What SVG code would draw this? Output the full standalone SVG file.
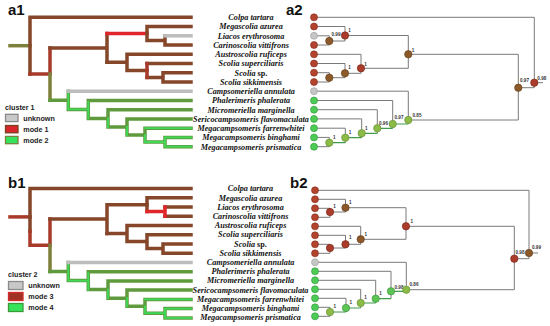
<svg xmlns="http://www.w3.org/2000/svg" width="550" height="326" viewBox="0 0 550 326">
<style>
.pl{font-family:"Liberation Sans",Arial,sans-serif;font-weight:bold;font-size:15px;fill:#111}
.lg{font-family:"Liberation Sans",Arial,sans-serif;font-weight:bold;font-size:7.2px;fill:#222}
.sp{font-family:"Liberation Serif","Times New Roman",serif;font-weight:bold;font-style:italic;font-size:8.2px;fill:#111;text-anchor:middle}
.sp tspan.n{font-style:normal}
.t1 path{fill:none;stroke-width:3.5;stroke-linecap:square;stroke-linejoin:miter}
.br{stroke:#854629}
.rd{stroke:#e0262a}
.rb{stroke:#a83a2a}
.gy{stroke:#bdbdbd}
.ol{stroke:#7d7f3a}
.go{stroke:#5f9a3c}
.t1 path.gi{stroke:#3fd957;stroke-width:1.8}
.t2 path{fill:none;stroke:#7a7a7a;stroke-width:1}
.t2 path.gl{stroke:#3f9c4c;stroke-width:1.2}
.nl{font-family:"Liberation Sans",Arial,sans-serif;font-weight:bold;font-size:4.6px;fill:#333}
.tb{fill:#b4432e;stroke:#7a2a1a;stroke-width:0.6}
.tg{fill:#c6c6c6;stroke:#9a9a9a;stroke-width:0.6}
.tn{fill:#4ccc55;stroke:#2f8f38;stroke-width:0.6}
.ib{fill:#8c5a2a;stroke:#5e3a18;stroke-width:0.6}
.ir{fill:#ab3b2a;stroke:#6e2618;stroke-width:0.6}
.iy{fill:#8dbb48;stroke:#5f8a30;stroke-width:0.6}
.ig{fill:#5cc655;stroke:#3a8a3a;stroke-width:0.6}
</style>
<defs>
<g id="tree1green" class="t1">
<path class="go" d="M50,100.3H68.3M68.3,91.2V109.4M68.3,109.4H88.3M88.3,100.5V118.4M88.3,100.5H191M88.3,118.4H108M108,109.7V127M108,109.7H191M108,127H127M127,118.9V135.1M127,118.9H191M127,135.1H145M145,128.2V142M145,128.2H191M145,142H165M165,137.4V146.7M165,137.4H191M165,146.7H191"/>
<path class="gi" d="M68.3,93V109.4M68.3,109.4H88.3M88.3,102V118.4M108,118.4V127M127,127V135.1M145,135.1V142M145,142H165M165,137.4V146.7M165,137.4H191M165,146.7H191M145,128.2H191"/>
<path class="gy" d="M68.3,91.2H191"/>
</g>
</defs>

<!-- panel labels -->
<text class="pl" x="8" y="15">a1</text>
<text class="pl" x="286" y="15">a2</text>
<text class="pl" x="8" y="188">b1</text>
<text class="pl" x="290" y="188">b2</text>

<!-- ===== a1 tree ===== -->
<g id="a1-connectors" class="t1">
<path class="ol" d="M10,45.7H30"/>
<path class="br" d="M30,17.3V74.1M30,17.3H191"/>
<path class="rb" d="M30,74.1H50M50,47.9V74.1"/>
<path class="ol" d="M50,74.1V100.3"/>
<path class="br" d="M50,47.9H107M107,33.5V62.3"/>
<path class="rd" d="M107,33.5H147"/>
<path class="br" d="M147,26.5V40.4M147,26.5H191M147,40.4H165M165,35.8V45M165,45H191"/>
<path class="gy" d="M165,35.8H191"/>
<path class="br" d="M107,62.3H127M127,54.3V70.4M127,54.3H191M127,70.4H147M147,63.5H191M147,77.4H163M163,72.7V82M163,72.7H191M163,82H191"/>
<path class="rb" d="M147,63.5V77.4"/>
<use href="#tree1green"/>
</g>

<g id="a1-legend">
<text class="lg" x="5" y="110">cluster 1</text>
<rect x="5.5" y="114.3" width="12.5" height="7.3" fill="#c8c8c8" stroke="#8a8a8a" stroke-width="1.3"/>
<text class="lg" x="23.3" y="120.6">unknown</text>
<rect x="5.5" y="125.5" width="12.5" height="7.3" fill="#d8262a" stroke="#7a4020" stroke-width="1.3"/>
<text class="lg" x="23.3" y="131.6">mode 1</text>
<rect x="5.5" y="136.4" width="12.5" height="7.3" fill="#35e45a" stroke="#7a8040" stroke-width="1.3"/>
<text class="lg" x="23.3" y="142.5">mode 2</text>
</g>

<g id="a-species">
<text class="sp" x="251" y="20.1">Colpa tartara</text>
<text class="sp" x="251" y="29.3">Megascolia  azurea</text>
<text class="sp" x="251" y="38.6">Liacos erythrosoma</text>
<text class="sp" x="251" y="47.8">Carinoscolia vittifrons</text>
<text class="sp" x="251" y="57.1">Austroscolia ruficeps</text>
<text class="sp" x="251" y="66.3">Scolia superciliaris</text>
<text class="sp" x="251" y="75.5">Scolia <tspan class="n">sp.</tspan></text>
<text class="sp" x="251" y="84.8">Scolia sikkimensis</text>
<text class="sp" x="251" y="94">Campsomeriella annulata</text>
<text class="sp" x="251" y="103.3">Phalerimeris phalerata</text>
<text class="sp" x="251" y="112.5">Micromeriella marginella</text>
<text class="sp" x="251" y="121.7">Sericocampsomeris flavomaculata</text>
<text class="sp" x="251" y="131">Megacampsomeris farrenwhitei</text>
<text class="sp" x="251" y="140.2">Megacampsomeris binghami</text>
<text class="sp" x="251" y="149.5">Megacampsomeris prismatica</text>
</g>

<!-- ===== a2 tree ===== -->
<g id="a2-connectors" class="t2">
<path d="M314,17.3H534.3V87.7M518.3,87.7H534.3M534.3,82.7H543"/>
<path d="M314,26.5H345M314,35.8H329.3M314,45H329.3M329.3,35.8V45M329.3,41H345M345,26.5V41M345,35.5H408.3"/>
<path d="M314,54.3H361M314,63.5H345M314,72.7H329.3M314,82H329.3M329.3,72.7V82M329.3,77.7H345M345,63.5V77.7M345,73.3H361M361,54.3V73.3M361,68.3H408.3M408.3,35.5V68.3M408.3,54.3H518.3V120H408.3"/>
<path d="M314,91.2H408.3V124M314,100.5H392.7V128.3M314,109.7H377.3V133.3M314,118.9H361.7V137.7M314,128.2H345.3V142.7M314,137.4H329.3V146.7H314"/>
<path class="gl" d="M329.3,142.7H345.3M345.3,137.7H361.7M361.7,133.3H377.3M377.3,128.3H392.7M392.7,124H408.3"/>
</g>
<g id="a2-tips">
<circle class="tb" cx="314" cy="17.3" r="3.5"/>
<circle class="tb" cx="314" cy="26.5" r="3.5"/>
<circle class="tg" cx="314" cy="35.8" r="3.5"/>
<circle class="tb" cx="314" cy="45" r="3.5"/>
<circle class="tb" cx="314" cy="54.3" r="3.5"/>
<circle class="tb" cx="314" cy="63.5" r="3.5"/>
<circle class="tb" cx="314" cy="72.7" r="3.5"/>
<circle class="tb" cx="314" cy="82" r="3.5"/>
<circle class="tg" cx="314" cy="91.2" r="3.5"/>
<circle class="tn" cx="314" cy="100.5" r="3.5"/>
<circle class="tn" cx="314" cy="109.7" r="3.5"/>
<circle class="tn" cx="314" cy="118.9" r="3.5"/>
<circle class="tn" cx="314" cy="128.2" r="3.5"/>
<circle class="tn" cx="314" cy="137.4" r="3.5"/>
<circle class="tn" cx="314" cy="146.7" r="3.5"/>
</g>
<g id="a2-n23"><circle class="ib" cx="329.3" cy="41" r="3.7"/><text class="nl" x="331.5" y="35.5">0.99</text></g>
<g id="a2-n123"><circle class="ir" cx="345" cy="35.5" r="3.7"/><text class="nl" x="348.3" y="32">1</text></g>
<g id="a2-n67"><circle class="ib" cx="329.3" cy="77.7" r="3.7"/></g>
<g id="a2-n567"><circle class="ib" cx="345" cy="73.3" r="3.7"/><text class="nl" x="348.3" y="68.5">1</text></g>
<g id="a2-n4"><circle class="ir" cx="361" cy="68.3" r="3.7"/><text class="nl" x="364.3" y="65.5">1</text></g>
<g id="a2-nup"><circle class="ib" cx="408.3" cy="54.3" r="3.7"/><text class="nl" x="411.8" y="51.5">1</text></g>
<g id="a2-r1"><circle class="ib" cx="518.3" cy="87.7" r="3.7"/><text class="nl" x="520" y="82.3">0.97</text></g>
<g id="a2-r0"><circle class="ir" cx="534.3" cy="82.7" r="3.7"/><text class="nl" x="537.3" y="80">0.98</text></g>
<g id="a2-g1314"><circle class="iy" cx="329.3" cy="142.7" r="3.7"/><text class="nl" x="333" y="139">1</text></g>
<g id="a2-g12"><circle class="iy" cx="345.3" cy="137.7" r="3.7"/><text class="nl" x="348.8" y="134.3">1</text></g>
<g id="a2-g11"><circle class="iy" cx="361.7" cy="133.3" r="3.7"/><text class="nl" x="365" y="130">1</text></g>
<g id="a2-g10"><circle class="iy" cx="377.3" cy="128.3" r="3.7"/><text class="nl" x="379" y="125">0.96</text></g>
<g id="a2-g9"><circle class="iy" cx="392.7" cy="124" r="3.7"/><text class="nl" x="394.5" y="119">0.97</text></g>
<g id="a2-g8"><circle class="iy" cx="408.3" cy="120" r="3.7"/><text class="nl" x="412.5" y="116.7">0.85</text></g>

<!-- ===== b1 tree ===== -->
<g id="b1-connectors" class="t1" transform="translate(0,171.2)">
<path class="rb" d="M10,45.7H30"/>
<path class="br" d="M30,17.3V60M30,17.3H191"/>
<path class="rb" d="M30,60V74.1M30,74.1H50M50,47.9V74.1"/>
<path class="ol" d="M50,74.1V100.3"/>
<path class="br" d="M50,47.9H107M107,33.5V62.3M107,33.5H147"/>
<path class="br" d="M147,26.5V40.4M147,26.5H191M165,35.8H191M165,45H191"/>
<path class="rd" d="M147,40.4H165M165,35.8V45"/>
<path class="br" d="M107,62.3H127M127,54.3V70.4M127,54.3H191M127,70.4H147M147,63.5V77.4M147,63.5H191M147,77.4H163M163,72.7V82M163,72.7H191M163,82H191"/>
<use href="#tree1green"/>
</g>

<g id="b1-legend">
<text class="lg" x="8" y="277.3">cluster 2</text>
<rect x="8.5" y="281.5" width="14.5" height="8" fill="#c8c8c8" stroke="#8a8a8a" stroke-width="1.3"/>
<text class="lg" x="28.3" y="288.2">unknown</text>
<rect x="8.5" y="292.5" width="14.5" height="8" fill="#a03224" stroke="#d82a2a" stroke-width="1.3"/>
<text class="lg" x="28.3" y="299.2">mode 3</text>
<rect x="8.5" y="303.5" width="14.5" height="8" fill="#35e45a" stroke="#3a9a3a" stroke-width="1.3"/>
<text class="lg" x="28.3" y="310.2">mode 4</text>
</g>

<g id="b-species">
<text class="sp" x="250.5" y="191.3">Colpa tartara</text>
<text class="sp" x="250.5" y="200.5">Megascolia  azurea</text>
<text class="sp" x="250.5" y="209.7">Liacos erythrosoma</text>
<text class="sp" x="250.5" y="218.9">Carinoscolia vittifrons</text>
<text class="sp" x="250.5" y="228.1">Austroscolia ruficeps</text>
<text class="sp" x="250.5" y="237.3">Scolia superciliaris</text>
<text class="sp" x="250.5" y="246.5">Scolia <tspan class="n">sp.</tspan></text>
<text class="sp" x="250.5" y="255.7">Scolia sikkimensis</text>
<text class="sp" x="250.5" y="264.9">Campsomeriella annulata</text>
<text class="sp" x="250.5" y="274.1">Phalerimeris phalerata</text>
<text class="sp" x="250.5" y="283.3">Micromeriella marginella</text>
<text class="sp" x="250.5" y="292.5">Sericocampsomeris flavomaculata</text>
<text class="sp" x="250.5" y="301.7">Megacampsomeris farrenwhitei</text>
<text class="sp" x="250.5" y="310.9">Megacampsomeris binghami</text>
<text class="sp" x="250.5" y="320.1">Megacampsomeris prismatica</text>
</g>

<!-- ===== b2 tree ===== -->
<g id="b2-connectors" class="t2">
<path d="M315,190.3H529V258.7M514.3,258.7H529M529,253H538"/>
<path d="M315,199.3H345.5M315,208.3H330M315,217.3H330M330,208.3V217.3M330,212H345.5M345.5,199.3V212M345.5,207.7H406"/>
<path d="M315,226.3H360.7M315,235.3H345.5M315,244.3H330M315,253.3H330M330,244.3V253.3M330,248H345.5M345.5,235.3V248M345.5,244.3H360.7M360.7,226.3V244.3M360.7,239.3H406M406,207.7V239.3M406,226.3H514.3V289.7H406.3"/>
<path d="M315,262.3H406.3V291.3M315,271.3H391V298.7M315,280.3H375.7V303M315,289.3H360.7V308M315,298.3H346V312M315,307.3H330V316.3H315"/>
<path class="gl" d="M330,312H346M346,308H360.7M360.7,303H375.7M375.7,298.7H391M391,291.3H406.3"/>
</g>
<g id="b2-tips">
<circle class="tb" cx="315" cy="190.3" r="3.5"/>
<circle class="tb" cx="315" cy="199.3" r="3.5"/>
<circle class="tb" cx="315" cy="208.3" r="3.5"/>
<circle class="tb" cx="315" cy="217.3" r="3.5"/>
<circle class="tb" cx="315" cy="226.3" r="3.5"/>
<circle class="tb" cx="315" cy="235.3" r="3.5"/>
<circle class="tb" cx="315" cy="244.3" r="3.5"/>
<circle class="tb" cx="315" cy="253.3" r="3.5"/>
<circle class="tg" cx="315" cy="262.3" r="3.5"/>
<circle class="tn" cx="315" cy="271.3" r="3.5"/>
<circle class="tn" cx="315" cy="280.3" r="3.5"/>
<circle class="tn" cx="315" cy="289.3" r="3.5"/>
<circle class="tn" cx="315" cy="298.3" r="3.5"/>
<circle class="tn" cx="315" cy="307.3" r="3.5"/>
<circle class="tn" cx="315" cy="316.3" r="3.5"/>
</g>
<g id="b2-n23"><circle class="ir" cx="330" cy="212" r="3.7"/><text class="nl" x="333.3" y="208.3">1</text></g>
<g id="b2-n123"><circle class="ib" cx="345.5" cy="207.7" r="3.7"/><text class="nl" x="349" y="204">1</text></g>
<g id="b2-n67"><circle class="ir" cx="330" cy="248" r="3.7"/></g>
<g id="b2-n567"><circle class="ir" cx="345.5" cy="244.3" r="3.7"/><text class="nl" x="349" y="239.3">1</text></g>
<g id="b2-n4"><circle class="ib" cx="360.7" cy="239.3" r="3.7"/><text class="nl" x="364.5" y="236">1</text></g>
<g id="b2-nup"><circle class="ir" cx="406" cy="226.3" r="3.7"/><text class="nl" x="410.5" y="223">1</text></g>
<g id="b2-r1"><circle class="ir" cx="514.3" cy="258.7" r="3.7"/><text class="nl" x="515.5" y="253.7">0.98</text></g>
<g id="b2-r0"><circle class="ib" cx="529" cy="253" r="3.7"/><text class="nl" x="532" y="249">0.99</text></g>
<g id="b2-g1314"><circle class="iy" cx="330" cy="312" r="3.7"/><text class="nl" x="333.5" y="308">1</text></g>
<g id="b2-g12"><circle class="ig" cx="346" cy="308" r="3.7"/><text class="nl" x="349.5" y="304">1</text></g>
<g id="b2-g11"><circle class="iy" cx="360.7" cy="303" r="3.7"/><text class="nl" x="364.3" y="299">1</text></g>
<g id="b2-g10"><circle class="ig" cx="375.7" cy="298.7" r="3.7"/><text class="nl" x="379.3" y="294.5">1</text></g>
<g id="b2-g9"><circle class="ig" cx="391" cy="291.3" r="3.7"/><text class="nl" x="394.5" y="288.5">0.98</text></g>
<g id="b2-g8"><circle class="iy" cx="406.3" cy="289.7" r="3.7"/><text class="nl" x="409.5" y="285.7">0.86</text></g>
</svg>
